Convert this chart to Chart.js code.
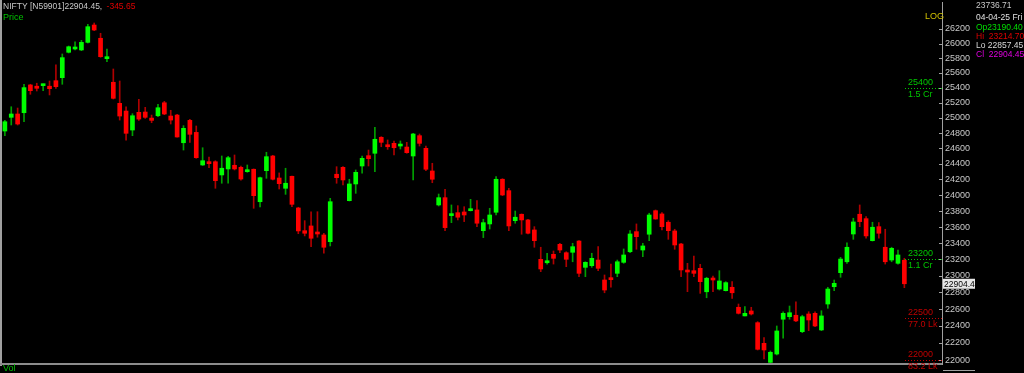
<!DOCTYPE html>
<html>
<head>
<meta charset="utf-8">
<script src="https://cdn.jsdelivr.net/npm/chart.js@4.4.1/dist/chart.umd.min.js"></script>
<style>
  html, body { margin: 0; padding: 0; background: #000; overflow: hidden; }
  #wrap { width: 1024px; height: 373px; }
</style>
</head>
<body>
<div id="wrap"><canvas id="chart" width="1024" height="373"></canvas></div>
<script>
// NIFTY daily candles, oldest first
const opens = [
  24827, 25007, 25051, 25068, 25438, 25421, 25428, 25421, 25495, 25536,
  25880, 25925, 25912, 26016, 26255, 26072, 25793, 25474, 25192, 25090,
  24840, 25073, 25077, 24997, 25028, 25200, 25024, 25037, 24674, 24967,
  24809, 24386, 24428, 24428, 24258, 24335, 24382, 24356, 24300, 24331,
  23918, 24313, 24502, 24219, 24088, 24241, 23839, 23555, 23614, 23539,
  23502, 23419, 24267, 24356, 23931, 24143, 24373, 24506, 24537, 24745,
  24648, 24666, 24631, 24618, 24502, 24766, 24601, 24309, 23877, 23969,
  23743, 23780, 23789, 23805, 23814, 23555, 23639, 23785, 24203, 24058,
  23680, 23760, 23689, 23564, 23202, 23160, 23263, 23386, 23283, 23288,
  23427, 23104, 23124, 23193, 22950, 22971, 23031, 23165, 23295, 23543,
  23316, 23511, 23805, 23764, 23660, 23552, 23390, 23063, 23063, 23092,
  22808, 22971, 22841, 22821, 22862, 22622, 22519, 22578, 22439, 22196,
  21974, 22071, 22480, 22510, 22527, 22333, 22542, 22550, 22353, 22661,
  22869, 23039, 23172, 23514, 23760, 23705, 23431, 23605, 23350, 23193,
  23153, 23190.40
];
const highs = [
  24967, 25147, 25130, 25447, 25447, 25461, 25451, 25491, 25711, 25857,
  25966, 26024, 26044, 26265, 26283, 26141, 25925, 25653, 25491, 25147,
  25055, 25246, 25139, 25037, 25179, 25219, 25100, 25046, 24897, 24980,
  24893, 24609, 24489, 24441, 24502, 24498, 24515, 24373, 24386, 24335,
  24232, 24550, 24511, 24284, 24344, 24245, 23848, 23680, 23792, 23792,
  23523, 23961, 24364, 24364, 24203, 24322, 24502, 24579, 24876, 24753,
  24710, 24697, 24697, 24679, 24797, 24788, 24631, 24408, 24015, 24076,
  23877, 23868, 23855, 23948, 23931, 23698, 23835, 24236, 24210, 24088,
  23801, 23764, 23698, 23605, 23350, 23276, 23304, 23399, 23295, 23399,
  23431, 23172, 23276, 23357, 23011, 23144, 23193, 23329, 23555, 23639,
  23399, 23773, 23814, 23780, 23680, 23573, 23399, 23153, 23243, 23141,
  22983, 22999, 23063, 22930, 22930, 22661, 22629, 22622, 22451, 22262,
  22106, 22400, 22569, 22637, 22688, 22527, 22569, 22569, 22581, 22862,
  22950, 23226, 23406, 23710, 23877, 23730, 23660, 23655, 23573, 23350,
  23316, 23214.70
];
const lows = [
  24766, 24906, 24906, 24949, 25313, 25357, 25361, 25304, 25393, 25447,
  25871, 25912, 25902, 26007, 26177, 25812, 25752, 25250, 24971, 24706,
  24766, 24967, 24993, 24936, 25015, 25042, 24919, 24745, 24579, 24679,
  24472, 24380, 24351, 24088, 24152, 24152, 24322, 24190, 24292, 23835,
  23851, 24215, 24194, 24079, 24011, 23855, 23518, 23490, 23357, 23474,
  23276, 23366, 24152, 24130, 23927, 24024, 24280, 24373, 24300, 24622,
  24588, 24515, 24592, 24537, 24194, 24631, 24313, 24159, 23864, 23555,
  23655, 23689, 23668, 23801, 23605, 23469, 23576, 23751, 23994, 23555,
  23648, 23511, 23514, 23350, 23051, 23144, 23144, 23283, 23112, 23172,
  22990, 22990, 23104, 23063, 22796, 22862, 22990, 23153, 23283, 23325,
  23234, 23431, 23698, 23564, 23448, 23325, 22990, 22809, 22990, 22789,
  22736, 22808, 22829, 22817, 22729, 22542, 22519, 22530, 22118, 22013,
  21963, 22060, 22255, 22480, 22451, 22321, 22345, 22392, 22345, 22610,
  22821, 22983, 23153, 23448, 23605, 23461, 23427, 23461, 23144, 23172,
  23144, 22857.45
];
const closes = [
  24949, 25051, 24919, 25402, 25361, 25393, 25442, 25388, 25415, 25807,
  25956, 25952, 26016, 26232, 26186, 25820, 25807, 25259, 25024, 24797,
  25028, 24984, 25007, 24967, 25134, 25051, 24971, 24749, 24862, 24784,
  24480, 24441, 24403, 24185, 24344, 24480, 24335, 24206, 24318, 23994,
  24223, 24493, 24203, 24147, 24152, 23885, 23552, 23523, 23461, 23514,
  23350, 23918, 24223, 24194, 24143, 24292, 24472, 24467, 24719, 24679,
  24622, 24609, 24653, 24545, 24788, 24666, 24331, 24203, 23969, 23593,
  23764, 23723, 23751, 23830, 23648, 23655, 23751, 24203, 24003, 23614,
  23723, 23689, 23523, 23431, 23084, 23184, 23214, 23316, 23202, 23357,
  23031, 23165, 23214, 23092, 22829, 22954, 23172, 23255, 23514, 23481,
  23366, 23751, 23701, 23605, 23555, 23378, 23072, 23047, 23031, 22930,
  22971, 22950, 22938, 22918, 22796, 22550, 22550, 22542, 22126, 22118,
  22091, 22341, 22550, 22557, 22460, 22510, 22471, 22400, 22519, 22841,
  22910, 23205, 23350, 23664, 23668, 23490, 23598, 23523, 23172, 23337,
  23255, 22904.45
];

const priceTicks = [22000, 22200, 22400, 22600, 22800, 23000, 23200, 23400, 23600, 23800,
  24000, 24200, 24400, 24600, 24800, 25000, 25200, 25400, 25600, 25800, 26000, 26200];

// volume levels marked on the right edge
const levelPrices = [25400, 23200, 22500, 22000];
const levelVols = ['1.5 Cr', '1.1 Cr', '77.0 Lk', '83.2 Lk'];
const levelUp = [true, true, false, false];

const lastPrice = 22904.45;
const lastPriceLabel = '22904.4';
const change = -345.65;
const cursorValue = '23736.71';
const barDate = '04-04-25 Fri';

const UP = '#00ff00', DOWN = '#ff0000';
const UP_WICK = '#00a000', DOWN_WICK = '#b00000';
const FONT = '"Liberation Sans", Arial, sans-serif';

const isUp = i => closes[i] >= opens[i];

const bodies = opens.map((o, i) => ({ x: i, y: [Math.min(o, closes[i]), Math.max(o, closes[i])] }));
const wicks = opens.map((o, i) => ({ x: i, y: [lows[i], highs[i]] }));

const overlay = {
  id: 'overlay',
  beforeDraw(chart) {
    const ctx = chart.ctx;
    ctx.save();
    ctx.fillStyle = '#000';
    ctx.fillRect(0, 0, chart.width, chart.height);
    ctx.restore();
  },
  afterDraw(chart) {
    const ctx = chart.ctx;
    const y = chart.scales.y;
    const area = chart.chartArea;
    ctx.save();

    // frame lines
    ctx.fillStyle = '#a0a0a0';
    ctx.fillRect(0, 0, 2, area.bottom + 2);
    ctx.fillStyle = '#8c8c8c';
    ctx.fillRect(0, area.bottom - 1, area.right, 2);
    ctx.fillStyle = '#a0a0a0';
    ctx.fillRect(area.right + 1, 370, 32, 1);

    // small tick marks on the axis
    ctx.strokeStyle = '#a0a0a0';
    ctx.lineWidth = 1;
    priceTicks.forEach(p => {
      const py = Math.round(y.getPixelForValue(p)) + 0.5;
      ctx.beginPath();
      ctx.moveTo(area.right - 3, py);
      ctx.lineTo(area.right, py);
      ctx.stroke();
    });

    // volume levels
    ctx.font = '9px ' + FONT;
    ctx.textBaseline = 'middle';
    levelPrices.forEach((p, i) => {
      const py = Math.round(y.getPixelForValue(p)) + 0.5;
      const col = levelUp[i] ? '#00c800' : '#c00000';
      ctx.strokeStyle = col;
      ctx.setLineDash([1, 2]);
      ctx.beginPath();
      ctx.moveTo(905, py);
      ctx.lineTo(area.right, py);
      ctx.stroke();
      ctx.setLineDash([]);
      ctx.fillStyle = col;
      ctx.textAlign = 'left';
      ctx.fillText(String(p), 908, py - 5.5);
      ctx.fillText(levelVols[i], 908, py + 6.5);
    });

    // last price box
    const ly = y.getPixelForValue(lastPrice);
    ctx.fillStyle = '#e6e6e6';
    ctx.fillRect(area.right + 1, ly - 5, 32, 10);
    ctx.fillStyle = '#000';
    ctx.font = '8.5px ' + FONT;
    ctx.fillText(lastPriceLabel, area.right + 2, ly + 0.5);

    // header
    ctx.textAlign = 'left';
    const head = 'NIFTY [N59901]' + lastPrice.toFixed(2) + ', ';
    ctx.fillStyle = '#c8c8c8';
    ctx.fillText(head, 3, 7);
    ctx.fillStyle = '#e00000';
    ctx.fillText(change.toFixed(2), 3 + ctx.measureText(head).width + 2, 7);
    ctx.font = '9px ' + FONT;
    ctx.fillStyle = '#00c000';
    ctx.fillText('Price', 3, 17.5);
    ctx.fillText('Vol', 3, 369);
    ctx.fillStyle = '#d0c000';
    ctx.fillText('LOG', 925, 17);

    // info panel
    const ix = 976;
    const rowY = [6, 17.5, 27.5, 36.5, 45.5, 55];
    const rows = [
      [cursorValue, '#c8c8c8'],
      [barDate, '#e0e0e0'],
      ['Op' + opens[opens.length - 1].toFixed(2), '#00e000'],
      ['Hi  ' + highs[highs.length - 1].toFixed(2), '#e00000'],
      ['Lo ' + lows[lows.length - 1].toFixed(2), '#d8d8d8'],
      ['Cl  ' + closes[closes.length - 1].toFixed(2), '#e000e0']
    ];
    ctx.font = '8.5px ' + FONT;
    rows.forEach((r, i) => {
      ctx.fillStyle = r[1];
      ctx.fillText(r[0], ix, rowY[i]);
    });
    ctx.restore();
  }
};

new Chart(document.getElementById('chart'), {
  type: 'bar',
  data: {
    datasets: [
      {
        label: 'Body',
        data: bodies,
        order: 0,
        grouped: false,
        barThickness: 4,
        minBarLength: 2,
        borderWidth: 0,
        backgroundColor: opens.map((o, i) => isUp(i) ? UP : DOWN)
      },
      {
        label: 'Wick',
        data: wicks,
        order: 1,
        grouped: false,
        barThickness: 1,
        borderWidth: 0,
        backgroundColor: opens.map((o, i) => isUp(i) ? UP_WICK : DOWN_WICK)
      }
    ]
  },
  options: {
    responsive: false,
    devicePixelRatio: 1,
    animation: false,
    layout: { padding: { left: 2, top: 2, right: 0, bottom: 9 } },
    plugins: { legend: { display: false }, tooltip: { enabled: false } },
    scales: {
      x: {
        type: 'linear', min: -0.45, max: 146.9, offset: false, bounds: 'data', display: false
      },
      y: {
        type: 'logarithmic',
        position: 'right',
        min: 21955,
        max: 26576,
        afterBuildTicks: s => { s.ticks = priceTicks.map(v => ({ value: v })); },
        afterFit: s => { s.width = 82; s.paddingTop = 0; s.paddingBottom = 0; },
        grid: { display: false, drawTicks: false },
        border: { display: true, color: '#a0a0a0', width: 1 },
        ticks: {
          color: '#c8c8c8',
          padding: 3,
          font: { family: FONT, size: 9 },
          callback: v => String(v)
        }
      }
    }
  },
  plugins: [overlay]
});
</script>
</body>
</html>
